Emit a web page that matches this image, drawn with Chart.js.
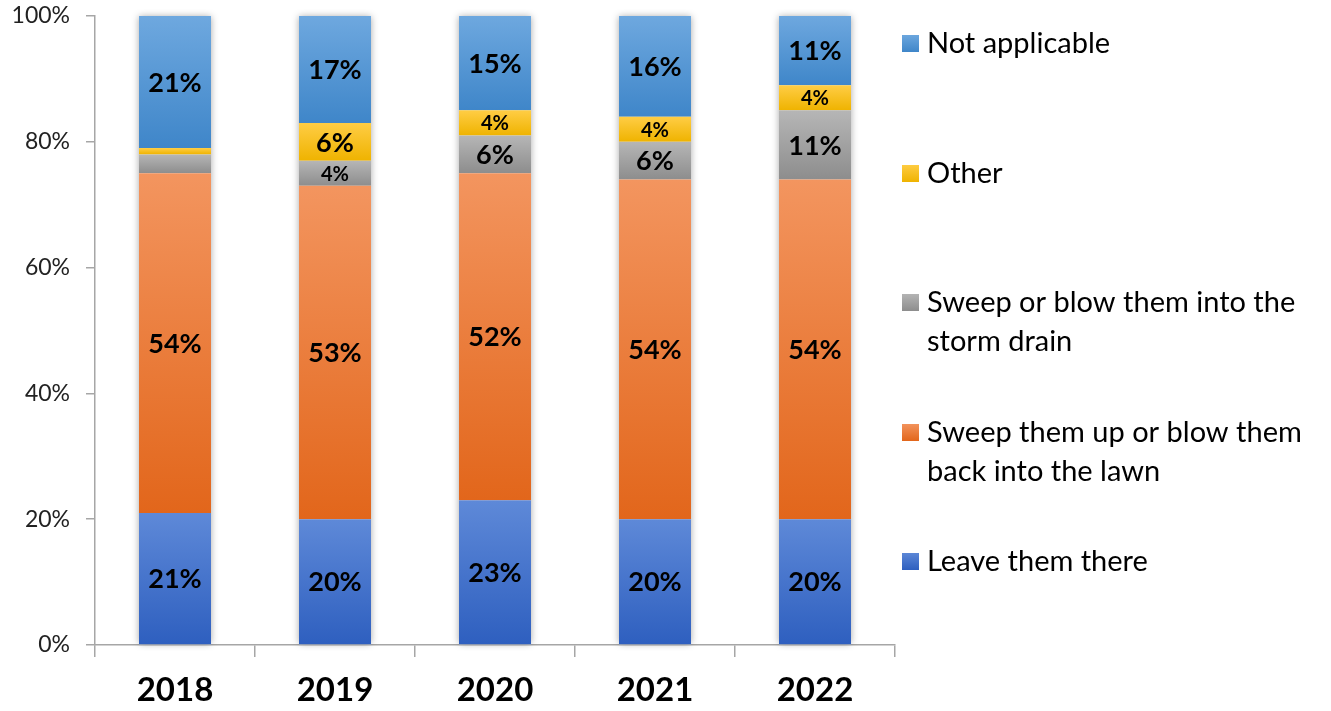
<!DOCTYPE html>
<html>
<head>
<meta charset="utf-8">
<script src="https://cdn.jsdelivr.net/npm/chart.js@4/dist/chart.umd.min.js"></script>
<style>
  html, body { margin: 0; padding: 0; background: #fff; }
  #wrap { width: 1331px; height: 711px; position: relative; }
</style>
</head>
<body>
<div id="wrap"><canvas id="chart-leaves"></canvas></div>
<script>
var years = ["2018", "2019", "2020", "2021", "2022"];

var leaveThem = [21, 20, 23, 20, 20];
var sweepLawn = [54, 53, 52, 54, 54];
var sweepDrain = [3, 4, 6, 6, 11];
var otherVals = [1, 6, 4, 4, 4];
var notApplicable = [21, 17, 15, 16, 11];

var yTicks = [0, 20, 40, 60, 80, 100];

var seriesNames = ["Leave them there", ["Sweep them up or blow them", "back into the lawn"],
    ["Sweep or blow them into the", "storm drain"], "Other", "Not applicable"];
var seriesData = [leaveThem, sweepLawn, sweepDrain, otherVals, notApplicable];
var seriesColors = [
    ["#5e89d8", "#2e5fbf"],
    ["#f3955f", "#e2661b"],
    ["#b6b6b6", "#8d8d8d"],
    ["#ffcd45", "#efb300"],
    ["#6ea8df", "#3f86c9"]
];

// vertical gradient per segment, lighter on top
function segmentFill(ctx) {
    var chart = ctx.chart;
    var col = seriesColors[ctx.datasetIndex];
    if (!chart.chartArea || !chart.scales.y || ctx.dataIndex === undefined) return col[1];
    var start = 0;
    for (var d = 0; d < ctx.datasetIndex; d++) start += seriesData[d][ctx.dataIndex];
    var val = seriesData[ctx.datasetIndex][ctx.dataIndex];
    var yTop = chart.scales.y.getPixelForValue(start + val);
    var yBot = chart.scales.y.getPixelForValue(start);
    if (!isFinite(yTop) || !isFinite(yBot) || yTop === yBot) return col[1];
    var g = chart.ctx.createLinearGradient(0, yTop, 0, yBot);
    g.addColorStop(0, col[0]);
    g.addColorStop(1, col[1]);
    return g;
}

var datasets = seriesData.map(function (vals, i) {
    return {
        label: Array.isArray(seriesNames[i]) ? seriesNames[i].join(" ") : seriesNames[i],
        data: vals,
        backgroundColor: segmentFill,
        borderWidth: 0,
        barPercentage: 0.9,
        categoryPercentage: 0.5
    };
});

var barShadow = {
    id: "barShadow",
    beforeDatasetsDraw: function (chart) {
        var ctx = chart.ctx;
        var first = chart.getDatasetMeta(0).data;
        var last = chart.getDatasetMeta(seriesData.length - 1).data;
        ctx.save();
        ctx.shadowColor = "rgba(0,0,0,0.35)";
        ctx.shadowBlur = 7;
        ctx.fillStyle = "#ffffff";
        for (var i = 0; i < first.length; i++) {
            var b = first[i], t = last[i];
            ctx.fillRect(b.x - b.width / 2, t.y, b.width, b.base - t.y);
        }
        ctx.restore();
    }
};

var segLabels = {
    id: "segLabels",
    afterDatasetsDraw: function (chart) {
        var ctx = chart.ctx;
        ctx.save();
        ctx.fillStyle = "#000";
        ctx.textAlign = "center";
        ctx.textBaseline = "middle";
        seriesData.forEach(function (vals, di) {
            chart.getDatasetMeta(di).data.forEach(function (el, i) {
                var v = vals[i];
                if (v < 4) return;
                ctx.font = "bold " + (v <= 4 ? 20 : 27) + "px Lato";
                ctx.fillText(v + "%", el.x, (el.y + el.base) / 2 + 1);
            });
        });
        ctx.restore();
    }
};

var sideLegend = {
    id: "sideLegend",
    afterDraw: function (chart) {
        var ctx = chart.ctx;
        var rows = [43, 173, 302, 432, 561];
        ctx.save();
        ctx.font = "29px Lato";
        ctx.textBaseline = "middle";
        ctx.textAlign = "left";
        for (var k = 0; k < 5; k++) {
            var si = 4 - k;
            var y = rows[k];
            var col = seriesColors[si];
            var g = ctx.createLinearGradient(0, y - 9, 0, y + 9);
            g.addColorStop(0, col[0]);
            g.addColorStop(1, col[1]);
            ctx.fillStyle = g;
            ctx.fillRect(902, y - 8, 17, 17);
            ctx.fillStyle = "#000";
            var name = seriesNames[si];
            if (Array.isArray(name)) {
                ctx.fillText(name[0], 927, y + 1);
                ctx.fillText(name[1], 927, y + 40);
            } else {
                ctx.fillText(name, 927, y + 1);
            }
        }
        ctx.restore();
    }
};

new Chart(document.getElementById("chart-leaves"), {
    type: "bar",
    data: { labels: years, datasets: datasets },
    plugins: [barShadow, segLabels, sideLegend],
    options: {
        responsive: true,
        maintainAspectRatio: false,
        animation: false,
        layout: { padding: { top: 16, right: 436, bottom: 0, left: 0 } },
        plugins: {
            legend: { display: false },
            tooltip: { enabled: false }
        },
        scales: {
            x: {
                stacked: true,
                offset: true,
                afterFit: function (s) { s.height = 66; s.paddingLeft = 0; s.paddingRight = 0; },
                border: { display: true, color: "#a6a6a6", width: 1.5 },
                grid: {
                    offset: true,
                    drawOnChartArea: false,
                    drawTicks: true,
                    tickLength: 12,
                    color: "#a6a6a6",
                    lineWidth: 1.5
                },
                ticks: {
                    color: "#000",
                    padding: 14,
                    font: { family: "Lato", size: 33, weight: "bold" }
                }
            },
            y: {
                stacked: true,
                min: 0,
                max: 100,
                afterFit: function (s) { s.width = 95; s.paddingTop = 0; s.paddingBottom = 0; },
                afterBuildTicks: function (s) {
                    s.ticks = yTicks.map(function (v) { return { value: v }; });
                },
                border: { display: true, color: "#a6a6a6", width: 1.5 },
                grid: {
                    drawOnChartArea: false,
                    drawTicks: true,
                    tickLength: 9,
                    color: "#a6a6a6",
                    lineWidth: 1.5
                },
                ticks: {
                    color: "#222",
                    padding: 16,
                    font: { family: "Lato", size: 23 },
                    callback: function (v) { return v + "%"; }
                }
            }
        }
    }
});
</script>
</body>
</html>
